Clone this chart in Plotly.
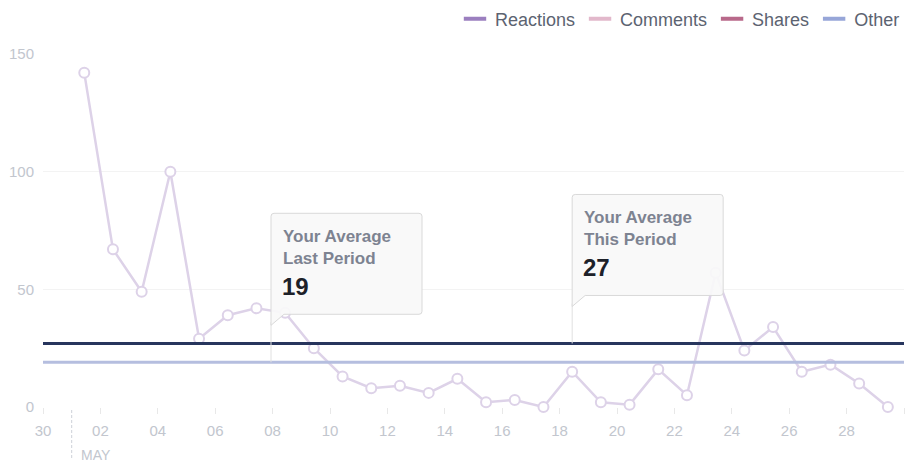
import plotly.graph_objects as go

# ---- data ----
days = [f"2024-05-{d:02d}T10:30" for d in range(1, 30)]
values = [142, 67, 49, 100, 29, 39, 42, 40, 25, 13, 8, 9, 6, 12, 2, 3, 0,
          15, 2, 1, 16, 5, 57, 24, 34, 15, 18, 10, 0]
avg_last = 19
avg_this = 27
callout_last_x = "2024-05-07T22:40"
callout_this_x = "2024-05-18T10:30"
legend_names = ["Reactions", "Comments", "Shares", "Other"]
legend_colors = ["#9b7fbf", "#e2b8cb", "#b8698a", "#97a6d8"]
y_ticks = [0, 50, 100, 150]

FONT = "Liberation Sans, Arial, sans-serif"
GRAY = "#c2c6ce"

fig = go.Figure()

fig.add_trace(go.Scatter(
    x=days, y=values, mode="lines+markers", showlegend=False,
    line=dict(color="#ddd2e8", width=2.5),
    marker=dict(symbol="circle", size=10, color="white",
                line=dict(color="#ddd2e8", width=2)),
    cliponaxis=False, hoverinfo="skip"))

for name, col in zip(legend_names, legend_colors):
    fig.add_trace(go.Scatter(
        x=[None], y=[None], mode="markers", name=name,
        marker=dict(symbol="line-ew-open", size=18, color=col,
                    line=dict(color=col, width=4))))

shapes = []
# average lines
shapes.append(dict(type="line", xref="paper", x0=0, x1=1, yref="y",
                   y0=avg_last, y1=avg_last, layer="above",
                   line=dict(color="#b5bedf", width=3)))
shapes.append(dict(type="line", xref="paper", x0=0, x1=1, yref="y",
                   y0=avg_this, y1=avg_this, layer="above",
                   line=dict(color="#27355d", width=3)))

box_path = ("M 0,37 L 0,146 Q 0,149 3,149 L 148,149 Q 151,149 151,146 "
            "L 151,51 Q 151,48 148,48 L 13,48 Z")
annotations = []
for ax, av, label in [(callout_last_x, avg_last, "Last Period"),
                      (callout_this_x, avg_this, "This Period")]:
    shapes.append(dict(type="line", xref="x", yref="y", xsizemode="pixel",
                       ysizemode="pixel", xanchor=ax, yanchor=av,
                       x0=0, x1=0, y0=0, y1=40, layer="above",
                       line=dict(color="#e0e0e0", width=1)))
    shapes.append(dict(type="path", xref="x", yref="y", xsizemode="pixel",
                       ysizemode="pixel", xanchor=ax, yanchor=av,
                       path=box_path, layer="above",
                       fillcolor="rgba(249,249,249,0.93)",
                       line=dict(color="#d9d9d9", width=1)))
    annotations.append(dict(x=ax, y=av, xref="x", yref="y", xanchor="left",
                            yanchor="middle", xshift=10, yshift=115,
                            showarrow=False, align="left",
                            text=f"<b>Your Average<br>{label}</b>",
                            font=dict(family=FONT, size=17, color="#7d8391")))
    annotations.append(dict(x=ax, y=av, xref="x", yref="y", xanchor="left",
                            yanchor="middle", xshift=9, yshift=76,
                            showarrow=False, align="left",
                            text=f"<b>{av}</b>",
                            font=dict(family=FONT, size=24, color="#1d2129")))

# month separator
shapes.append(dict(type="line", xref="x", yref="paper", x0="2024-05-01",
                   x1="2024-05-01", ysizemode="pixel", yanchor=0,
                   y0=-3, y1=-52, line=dict(color="#cdd1d8", width=1, dash="3px,2px")))
annotations.append(dict(x="2024-05-01", y=0, xref="x", yref="paper",
                        xanchor="left", yanchor="middle", xshift=7, yshift=-48,
                        showarrow=False, text="MAY",
                        font=dict(family=FONT, size=14, color=GRAY)))

fig.update_layout(
    width=905, height=464,
    margin=dict(l=43, r=1, t=54, b=57),
    paper_bgcolor="white", plot_bgcolor="white",
    font=dict(family=FONT, color=GRAY),
    shapes=shapes, annotations=annotations,
    showlegend=True,
    legend=dict(orientation="h", xref="container", yref="container",
                x=1.0, xanchor="right", y=(464 - 19) / 464, yanchor="middle",
                font=dict(family=FONT, size=18, color="#5c6371"),
                itemsizing="trace", traceorder="normal",
                bgcolor="rgba(0,0,0,0)"),
    xaxis=dict(type="date", range=["2024-04-30", "2024-05-30"],
               tick0="2024-04-30", dtick=2 * 86400000, tickformat="%d",
               showgrid=False, zeroline=False, showline=False,
               ticks="outside", ticklen=6, tickcolor="#e8e8e8",
               ticklabelstandoff=4,
               tickfont=dict(family=FONT, size=15, color=GRAY)),
    yaxis=dict(range=[0, 150], tickvals=y_ticks, showgrid=True,
               gridcolor="#f3f3f3", gridwidth=1, zeroline=False,
               showline=False, ticks="", ticklabelstandoff=8,
               tickfont=dict(family=FONT, size=15, color=GRAY)),
)

fig.write_html("out.html",
               config={"displayModeBar": False},
               post_script="document.body.style.margin='0';"
                           "document.body.style.padding='0';")
